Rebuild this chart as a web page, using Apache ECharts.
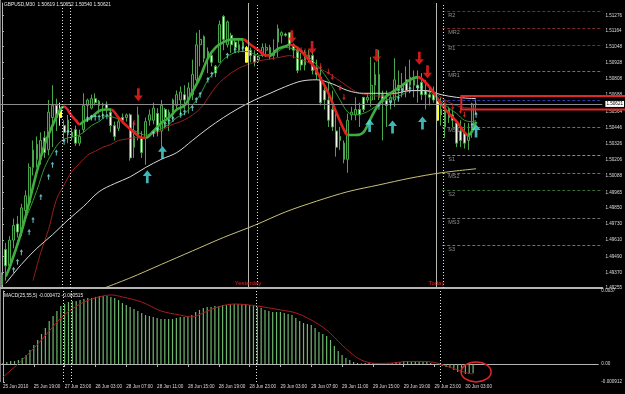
<!DOCTYPE html>
<html><head><meta charset="utf-8">
<script src="https://cdn.jsdelivr.net/npm/echarts@6/dist/echarts.min.js"></script>
<style>html,body{margin:0;padding:0;background:#000;}#c{width:625px;height:394px;}</style>
</head><body><div id="c"></div>
<script>
// ---------------- DATA ----------------
const chartTitle = 'GBPUSD,M30  1.50619 1.50652 1.50540 1.50621';
const macdTitle = 'MACD(25,55,5) -0.000472 -0.000515';
const timeLabels = ['25 Jun 2010','25 Jun 19:00','27 Jun 23:00','28 Jun 03:00','28 Jun 07:00','28 Jun 11:00','28 Jun 15:00','28 Jun 19:00','28 Jun 23:00','29 Jun 03:00','29 Jun 07:00','29 Jun 11:00','29 Jun 15:00','29 Jun 19:00','29 Jun 23:00','30 Jun 03:00'];
const priceTicks = [1.49255,1.49370,1.49490,1.49610,1.49730,1.49850,1.49965,1.50088,1.50206,1.50326,1.50446,1.50564,1.50688,1.50808,1.50928,1.51048,1.51164,1.51276];
const priceMin = 1.49255, priceMax = 1.5137;

const opens = [1.4928,1.4954,1.4942,1.4961,1.4973,1.4967,1.4983,1.4989,1.5015,1.5032,
1.5021,1.5037,1.5028,1.5052,1.5061,1.5058,1.5046,1.5050,1.5041,1.5043,
1.5033,1.5043,1.5061,1.5059,1.5066,1.5064,1.5061,1.5062,1.5056,1.5046,
1.5044,1.5052,1.5052,1.5054,1.5038,1.5037,1.5037,1.5037,1.5050,1.5050,
1.5055,1.5042,1.5058,1.5052,1.5054,1.5061,1.5065,1.5069,1.5065,1.5069,
1.5080,1.5106,1.5112,1.5096,1.5098,1.5090,1.5093,1.5127,1.5106,1.5113,
1.5108,1.5106,1.5104,1.5104,1.5102,1.5098,1.5095,1.5098,1.5102,1.5104,
1.5098,1.5108,1.5113,1.5114,1.5115,1.5106,1.5102,1.5095,1.5091,1.5098,
1.5098,1.5089,1.5082,1.5072,1.5065,1.5058,1.5042,1.5038,1.5033,1.5021,
1.5054,1.5054,1.5058,1.5067,1.5065,1.5065,1.5076,1.5084,1.5069,1.5065,
1.5063,1.5065,1.5076,1.5072,1.5080,1.5076,1.5080,1.5076,1.5078,1.5072,
1.5069,1.5069,1.5064,1.5058,1.5060,1.5058,1.5054,1.5048,1.5042,1.5041,
1.5035,1.5044,1.50619];
const closes = [1.4935,1.4942,1.4961,1.4972,1.4967,1.4985,1.4994,1.5015,1.5028,1.5021,
1.5035,1.5026,1.5056,1.5061,1.5052,1.5052,1.5041,1.5041,1.5038,1.5033,
1.5038,1.5061,1.5065,1.5066,1.5063,1.5061,1.5062,1.5059,1.5046,1.5038,
1.5049,1.5050,1.5054,1.5022,1.5030,1.5054,1.5026,1.5049,1.5054,1.5059,
1.5042,1.5061,1.5052,1.5056,1.5065,1.5069,1.5071,1.5065,1.5074,1.5084,
1.5106,1.5110,1.5096,1.5101,1.5093,1.5085,1.5121,1.5110,1.5123,1.5106,
1.5104,1.5102,1.5108,1.5093,1.5098,1.5093,1.5097,1.5104,1.5104,1.5097,
1.5102,1.5118,1.5115,1.5113,1.5106,1.5102,1.5087,1.5091,1.5096,1.5095,
1.5087,1.5084,1.5063,1.5065,1.5050,1.5045,1.5030,1.5035,1.5021,1.5050,
1.5056,1.5058,1.5054,1.5058,1.5067,1.5076,1.5084,1.5067,1.5065,1.5061,
1.5067,1.5080,1.5072,1.5076,1.5072,1.5082,1.5076,1.5074,1.5069,1.5069,
1.5067,1.5065,1.5050,1.5054,1.5045,1.5052,1.5050,1.5033,1.5035,1.5033,
1.5038,1.5062,1.50621];
const lows = [1.4926,1.4931,1.4939,1.4955,1.4963,1.4964,1.4975,1.4988,1.5009,1.5015,
1.5017,1.5022,1.5024,1.5030,1.5042,1.5046,1.5034,1.5033,1.5035,1.5031,
1.5031,1.5041,1.5052,1.5058,1.5061,1.5055,1.5052,1.5055,1.5041,1.5035,
1.5042,1.5048,1.5049,1.5020,1.5022,1.5035,1.5022,1.5017,1.5046,1.5047,
1.5038,1.5030,1.5044,1.5042,1.5050,1.5058,1.5054,1.5058,1.5055,1.5065,
1.5078,1.5090,1.5093,1.5085,1.5090,1.5082,1.5093,1.5102,1.5104,1.5100,
1.5101,1.5100,1.5102,1.5093,1.5093,1.5090,1.5093,1.5097,1.5097,1.5095,
1.5095,1.5097,1.5107,1.5112,1.5102,1.5096,1.5085,1.5087,1.5087,1.5093,
1.5084,1.5080,1.5061,1.5058,1.5045,1.5042,1.5023,1.5028,1.5018,1.5011,
1.5050,1.5050,1.5045,1.5056,1.5063,1.5060,1.5065,1.5065,1.5035,1.5045,
1.5058,1.5060,1.5065,1.5067,1.5067,1.5070,1.5067,1.5063,1.5065,1.5058,
1.5061,1.5063,1.5049,1.5046,1.5037,1.5048,1.5045,1.5030,1.5030,1.5029,
1.5028,1.5037,1.50540];
const highs = [1.4937,1.4959,1.4964,1.4977,1.4979,1.4988,1.4998,1.5018,1.5035,1.5038,
1.5041,1.5042,1.5065,1.5076,1.5066,1.5063,1.5050,1.5054,1.5044,1.5046,
1.5043,1.5070,1.5066,1.5069,1.5070,1.5065,1.5063,1.5064,1.5058,1.5049,
1.5053,1.5055,1.5055,1.5055,1.5049,1.5060,1.5042,1.5052,1.5058,1.5063,
1.5059,1.5065,1.5059,1.5058,1.5066,1.5072,1.5075,1.5076,1.5078,1.5095,
1.5115,1.5117,1.5113,1.5104,1.5101,1.5091,1.5124,1.5128,1.5124,1.5115,
1.5110,1.5110,1.5111,1.5105,1.5104,1.5102,1.5098,1.5107,1.5107,1.5106,
1.5110,1.5121,1.5116,1.5115,1.5115,1.5107,1.5104,1.5100,1.5102,1.5102,
1.5101,1.5095,1.5090,1.5076,1.5078,1.5072,1.5055,1.5045,1.5035,1.5055,
1.5060,1.5067,1.5063,1.5067,1.5070,1.5097,1.5093,1.5102,1.5072,1.5072,
1.5070,1.5096,1.5087,1.5085,1.5090,1.5095,1.5087,1.5087,1.5085,1.5080,
1.5075,1.5075,1.5065,1.5067,1.5063,1.5060,1.5058,1.5050,1.5050,1.5048,
1.5048,1.5063,1.50652];
const highlightBars = [15, 63, 112];

// indicator lines: [bar index, price]
const trendLine = [[1,1.4934],[2,1.4941],[5,1.4967],[7,1.4989],[9,1.5012],[11,1.5032],[13,1.5046],[15,1.5058],[16,1.5060],[18,1.5053],[19,1.5050],[20,1.5047],[21,1.5049],[23,1.5052],[25,1.5057],[27,1.5058],[28,1.5058],[30,1.5052],[32,1.5046],[34,1.5041],[36,1.5037],[37,1.5037],[39,1.5042],[41,1.5048],[43,1.5052],[45,1.5058],[47,1.5061],[49,1.5071],[51,1.5082],[53,1.5096],[55,1.5104],[57,1.5108],[59,1.5110],[62,1.5110],[64,1.5106],[66,1.5102],[68,1.5098],[69,1.5098],[71,1.5103],[73,1.5105],[74,1.5106],[76,1.5104],[78,1.5098],[80,1.5091],[82,1.5081],[84,1.5070],[86,1.5056],[88,1.5043],[89,1.5039],[91,1.5039],[93,1.5041],[95,1.5052],[97,1.5062],[99,1.5068],[101,1.5072],[103,1.5076],[105,1.5080],[107,1.5082],[109,1.5078],[111,1.5071],[113,1.5062],[115,1.5055],[117,1.5049],[119,1.5041],[120,1.5039],[121,1.5042],[122,1.5049]];
const trendDownRanges = [[16,20],[28,37],[62,69],[74,89],[107,120]];
const fastLine = [[1,1.4935],[3,1.4950],[5,1.4969],[7,1.4983],[9,1.4998],[11,1.5015],[13,1.5026],[15,1.5034],[17,1.5037],[19,1.5038],[21,1.5041],[23,1.5046],[25,1.5049],[27,1.5053],[29,1.5052],[31,1.5049],[33,1.5044],[35,1.5041],[37,1.5039],[39,1.5041],[41,1.5044],[43,1.5047],[45,1.5052],[47,1.5055],[49,1.5061],[51,1.5069],[53,1.5080],[55,1.5087],[57,1.5095],[59,1.5099],[61,1.5101],[63,1.5101],[65,1.5099],[67,1.5098],[69,1.5099],[71,1.5101],[73,1.5104],[75,1.5103],[77,1.5101],[79,1.5097],[81,1.5091],[83,1.5084],[85,1.5075],[87,1.5065],[89,1.5056],[91,1.5054],[93,1.5055],[95,1.5058],[97,1.5062],[99,1.5065],[101,1.5067],[103,1.5069],[105,1.5072],[107,1.5072],[109,1.5072],[111,1.5069],[113,1.5064],[115,1.5059],[117,1.5055],[119,1.5050],[121,1.5049],[122,1.5050]];
const slowLine = [[8,1.4931],[10,1.4952],[12,1.4969],[14,1.4991],[16,1.5002],[18,1.5012],[20,1.5018],[22,1.5024],[24,1.5027],[26,1.5030],[28,1.5032],[30,1.5035],[32,1.5036],[34,1.5037],[36,1.5037],[38,1.5039],[40,1.5041],[42,1.5044],[44,1.5047],[46,1.5049],[48,1.5052],[50,1.5056],[52,1.5062],[54,1.5071],[56,1.5078],[58,1.5083],[60,1.5087],[62,1.5090],[64,1.5092],[66,1.5094],[68,1.5095],[70,1.5096],[72,1.5097],[74,1.5098],[76,1.5096],[78,1.5094],[80,1.5091],[82,1.5088],[84,1.5085],[86,1.5081],[88,1.5077],[90,1.5073],[92,1.5070],[94,1.5069],[96,1.5068],[98,1.5068],[100,1.5069],[102,1.5070],[104,1.5072],[106,1.5072],[108,1.5072],[110,1.5072],[112,1.5069],[114,1.5065],[116,1.5062],[118,1.5060],[120,1.5059],[122,1.5059]];
const ma100Line = [[1,1.4929],[5,1.4943],[9,1.4955],[13,1.4965],[17,1.4976],[21,1.4986],[25,1.4997],[29,1.5003],[33,1.5008],[37,1.5015],[41,1.5021],[45,1.5026],[49,1.5035],[53,1.5044],[57,1.5052],[61,1.5059],[65,1.5065],[69,1.5070],[73,1.5075],[77,1.5079],[81,1.5080],[85,1.5077],[89,1.5072],[93,1.5070],[97,1.5070],[101,1.5070],[105,1.5072],[109,1.5072],[113,1.5069],[117,1.5067],[122,1.5066]];
const ma200Line = [[25,1.4924],[33,1.4933],[41,1.4943],[49,1.4953],[57,1.4963],[65,1.4972],[73,1.4982],[81,1.4990],[89,1.4997],[97,1.5002],[105,1.5007],[113,1.5011],[122,1.5014]];

const smallUpArrows = [[3,1.4939],[4,1.4945],[5,1.4952],[7,1.4967],[8,1.4976],[10,1.4993],[12,1.5008],[13,1.5017],[14,1.5026],[16,1.5034],[17,1.5041],[22,1.5051],[23,1.5052],[24,1.5052],[25,1.5052],[26,1.5053],[27,1.5053],[39,1.5040],[40,1.5043],[42,1.5047],[43,1.5049],[44,1.5051],[46,1.5054],[47,1.5056],[49,1.5059],[50,1.5065],[51,1.5069],[53,1.5080],[54,1.5084],[58,1.5098],[60,1.5102],[62,1.5103],[97,1.5060],[100,1.5063],[102,1.5066],[103,1.5072],[105,1.5073],[107,1.5074],[108,1.5074],[121,1.5046],[122,1.5054]];
const smallDownArrows = [[34,1.5048],[76,1.5102],[77,1.5102],[78,1.5101],[79,1.5099],[82,1.5090],[84,1.5086],[85,1.5082],[87,1.5074],[88,1.5067],[114,1.5063],[116,1.5060],[118,1.5057],[119,1.5054]];
const buySignals = [[37.4,1.5008],[41.3,1.5026],[94.6,1.5046],[100.5,1.5045],[108.2,1.5048],[122,1.5042]];
const sellSignals = [[35.1,1.5069],[74.6,1.5112],[79.8,1.5104],[96.4,1.5098],[107.4,1.5096],[109.5,1.5086]];

const pivotNames = ['R2','MR2','R1','MR1','PP','MS1','S1','MS2','S2','MS3','S3'];
const pivotValues = [1.5131,1.5118,1.5106,1.5086,1.5065,1.5045,1.5024,1.5011,1.4998,1.4977,1.4957];
const pivotStart = 113.3;

const daySeparators = [15.6,17.6,65.6,113.6];
const dayMarkers = [63.3,111.8];
const dayMarkerNames = ['Yesterday','Today'];
const currentPrice = 1.50621;
const zoneTop = 1.5068, zoneBottom = 1.5058, zoneStart = 118.2;

const macdHist = [0.00005,0.0001,0.00015,0.00015,0.0002,0.0003,0.00046,0.00071,0.00096,0.00122,
0.00152,0.00183,0.00218,0.00243,0.00269,0.00294,0.00304,0.00314,0.00319,0.00319,
0.00324,0.0033,0.00335,0.00335,0.0034,0.00345,0.00345,0.00345,0.0034,0.00335,
0.00324,0.00309,0.00299,0.00289,0.00279,0.00269,0.00259,0.00248,0.00243,0.00238,
0.00233,0.00228,0.00228,0.00228,0.00228,0.00233,0.00238,0.00238,0.00243,0.00248,
0.00264,0.00274,0.00284,0.00289,0.00289,0.00294,0.00294,0.00299,0.00299,0.00304,
0.00304,0.00304,0.00304,0.00304,0.00299,0.00294,0.00289,0.00284,0.00274,0.00269,
0.00264,0.00264,0.00264,0.00259,0.00254,0.00248,0.00233,0.00218,0.00208,0.00203,
0.00198,0.00183,0.00162,0.00152,0.00142,0.00122,0.00091,0.00066,0.00046,0.0003,
0.0002,0.0001,0.00005,0.00002,0.00005,0.00005,0.00005,0.00003,0.00001,0.00001,
0.00003,0.00005,0.0001,0.0001,0.00015,0.00015,0.00015,0.00015,0.00015,0.0001,
0.0001,0.00005,0.00001,-0.00003,-0.0001,-0.00015,-0.0002,-0.0003,-0.0004,-0.00046,
-0.00051,-0.00051,-0.000472];
const macdSignal = [[0,-0.00066],[5,0.0002],[10,0.00122],[15,0.00233],[18,0.00279],[21,0.00314],[25,0.0034],[28,0.0035],[31,0.0034],[36,0.00314],[41,0.00269],[46,0.00248],[49,0.00238],[52,0.00259],[55,0.00284],[60,0.00304],[66,0.00294],[72,0.00274],[76,0.00259],[80,0.00223],[84,0.00172],[88,0.00096],[90,0.00061],[93,0.0002],[97,0.00003],[101,0.00005],[105,0.00013],[109,0.00013],[112,0.00008],[115,-0.0001],[118,-0.0003],[120,-0.00043],[122,-0.000515]];
const macdMin = -0.000912, macdMax = 0.0037;
const macdTicks = [-0.000912, 0, 0.0037];
const macdTickText = ['-0.000912','0.00','0.0037'];
const macdCircleAt = [122, -0.0004];

// ---------------- CHART ----------------
const N = 155;
const cats = Array.from({length: N}, (_, i) => String(i));
const FONT = 'Liberation Sans';
const G = '#3fae3f', R = '#e42020';
const arrowPath = 'path://M5,0L10,6L6.5,6L6.5,14L3.5,14L3.5,6L0,6Z';

const candleData = opens.map((o, i) => {
  const v = [o, closes[i], lows[i], highs[i]];
  if (highlightBars.indexOf(i) >= 0) {
    return {value: v, itemStyle: {color: '#ffff20', color0: '#ffff20', borderColor: '#ffff20', borderColor0: '#ffff20'}};
  }
  return v;
});

const pieces = [];
let prev = null;
trendDownRanges.forEach(r => {
  const p = {lt: r[0], color: G};
  if (prev !== null) p.gte = prev;
  pieces.push(p);
  pieces.push({gte: r[0], lt: r[1], color: R});
  prev = r[1];
});
pieces.push({gte: prev, color: G});

const tickShown = (i) => i % 8 === 0 && i / 8 < timeLabels.length;
const pivotColor = {R2:'#7e2a2a', MR2:'#7e2a2a', R1:'#7e2a2a', MR1:'#6e6e6e', PP:'#2a3aa8', MS1:'#6e6e6e', S1:'#8a8a8a', MS2:'#6e6e6e', S2:'#356a35', MS3:'#6e6e6e', S3:'#6e6e6e'};

const option = {
  backgroundColor: '#000',
  animation: false,
  grid: [
    {left: -1, right: 21, top: 3, height: 285},
    {left: -1, right: 21, top: 291, height: 91}
  ],
  visualMap: [{type: 'piecewise', show: false, dimension: 0, seriesIndex: 1, pieces: pieces}],
  xAxis: [
    {type: 'category', gridIndex: 0, data: cats, boundaryGap: true,
     axisLine: {show: true, lineStyle: {color: '#b4b4b4', width: 2}}, axisTick: {show: false}, axisLabel: {show: false}, splitLine: {show: false}},
    {type: 'value', gridIndex: 0, min: -0.5, max: N - 0.5, show: false},
    {type: 'category', gridIndex: 1, data: cats, boundaryGap: true,
     axisLine: {show: true, lineStyle: {color: '#b4b4b4'}},
     axisTick: {show: true, alignWithLabel: true, interval: tickShown, length: 3, lineStyle: {color: '#b4b4b4'}},
     axisLabel: {interval: tickShown, formatter: (v, i) => timeLabels[i / 8], color: '#dcdcdc', fontSize: 4.6, fontFamily: FONT, align: 'left', margin: 2},
     splitLine: {show: false}},
    {type: 'value', gridIndex: 1, min: -0.5, max: N - 0.5, show: false}
  ],
  yAxis: [
    {type: 'value', gridIndex: 0, position: 'right', min: priceMin, max: priceMax,
     axisLine: {show: true, lineStyle: {color: '#b4b4b4'}},
     axisTick: {show: true, length: 2, customValues: priceTicks, lineStyle: {color: '#b4b4b4'}},
     axisLabel: {customValues: priceTicks, formatter: v => v.toFixed(5), color: '#dcdcdc', fontSize: 4.6, fontFamily: FONT, margin: 3},
     splitLine: {show: false}},
    {type: 'value', gridIndex: 1, position: 'right', min: macdMin, max: macdMax,
     axisLine: {show: true, lineStyle: {color: '#b4b4b4'}},
     axisTick: {show: true, length: 2, customValues: macdTicks, lineStyle: {color: '#b4b4b4'}},
     axisLabel: {customValues: macdTicks, formatter: v => macdTickText[macdTicks.indexOf(v)], color: '#dcdcdc', fontSize: 4.6, fontFamily: FONT, margin: 3},
     splitLine: {show: false}}
  ],
  series: [
    {type: 'candlestick', xAxisIndex: 0, yAxisIndex: 0, data: candleData, barWidth: '58%',
     itemStyle: {color: '#0c1a0c', color0: '#eefce8', borderColor: '#4aa64a', borderColor0: '#4aa64a', borderWidth: 1}},
    {type: 'line', xAxisIndex: 1, yAxisIndex: 0, data: trendLine, showSymbol: false, smooth: 0.35, lineStyle: {width: 2.6}, z: 4},
    {type: 'line', xAxisIndex: 1, yAxisIndex: 0, data: fastLine, showSymbol: false, smooth: 0.35, lineStyle: {width: 1, color: '#2f9a2f'}, itemStyle: {color: '#2f9a2f'}, z: 3},
    {type: 'line', xAxisIndex: 1, yAxisIndex: 0, data: slowLine, showSymbol: false, smooth: 0.35, lineStyle: {width: 1, color: '#9a1e1e'}, itemStyle: {color: '#9a1e1e'}, z: 3,
     markLine: {silent: true, symbol: ['none','none'], animation: false,
       data: [[{coord: [-0.5, currentPrice], lineStyle: {color: '#8c8c8c', type: 'solid', width: 1},
                label: {show: true, position: 'end', formatter: currentPrice.toFixed(5), backgroundColor: '#ffffff', color: '#000', fontSize: 4.6, fontFamily: FONT, padding: [1, 1, 0, 1], distance: 3}},
               {coord: [N - 0.5, currentPrice]}]]}},
    {type: 'line', xAxisIndex: 1, yAxisIndex: 0, data: ma100Line, showSymbol: false, smooth: 0.35, lineStyle: {width: 1, color: '#d8d8d8'}, itemStyle: {color: '#d8d8d8'}, z: 3,
     markLine: {silent: true, symbol: ['none','none'], animation: false,
       data: pivotNames.map((n, k) => [
         {coord: [pivotStart, pivotValues[k]], lineStyle: {color: pivotColor[n], type: [3, 2], width: 1},
          label: {show: n !== 'PP', position: 'insideStartBottom', formatter: n, color: '#8e8e8e', fontSize: 5.5, fontFamily: FONT, distance: [6, 1]}},
         {coord: [N - 0.5, pivotValues[k]]}
       ])}},
    {type: 'line', xAxisIndex: 1, yAxisIndex: 0, data: ma200Line, showSymbol: false, smooth: 0.3, lineStyle: {width: 1, color: '#c8c07a'}, itemStyle: {color: '#c8c07a'}, z: 3,
     markLine: {silent: true, symbol: ['none','none'], animation: false, label: {show: false},
       data: daySeparators.map(v => ({xAxis: v, lineStyle: {color: '#e6e6e6', type: [1, 2], width: 1}}))
         .concat(dayMarkers.map(v => ({xAxis: v, lineStyle: {color: '#b8b8aa', type: 'solid', width: 1}})))}},
    {type: 'scatter', xAxisIndex: 1, yAxisIndex: 0, data: smallUpArrows, symbol: arrowPath, symbolSize: [3.5, 6], itemStyle: {color: '#7fe3e8'}, z: 5},
    {type: 'scatter', xAxisIndex: 1, yAxisIndex: 0, data: smallDownArrows, symbol: arrowPath, symbolRotate: 180, symbolSize: [3.5, 6], itemStyle: {color: '#e83030'}, z: 5},
    {type: 'scatter', xAxisIndex: 1, yAxisIndex: 0, data: buySignals, symbol: arrowPath, symbolSize: [9, 13], itemStyle: {color: '#4ee4e4'}, z: 6},
    {type: 'scatter', xAxisIndex: 1, yAxisIndex: 0, data: sellSignals, symbol: arrowPath, symbolRotate: 180, symbolSize: [9, 13], itemStyle: {color: '#ff2020'}, z: 6},
    {type: 'bar', xAxisIndex: 2, yAxisIndex: 1, data: macdHist, barWidth: 1.2, itemStyle: {color: '#6fb86f'}},
    {type: 'line', xAxisIndex: 3, yAxisIndex: 1, data: macdSignal, showSymbol: false, smooth: 0.35, lineStyle: {width: 1, color: '#a81c1c'}, itemStyle: {color: '#a81c1c'}, z: 4,
     markLine: {silent: true, symbol: ['none','none'], animation: false, label: {show: false},
       data: daySeparators.map(v => ({xAxis: v, lineStyle: {color: '#e6e6e6', type: [1, 2], width: 1}}))}}
  ]
};

const chart = echarts.init(document.getElementById('c'));
chart.setOption(option);

const px = j => chart.convertToPixel({xAxisIndex: 1}, j);
const py = v => chart.convertToPixel({yAxisIndex: 0}, v);
const pyM = v => chart.convertToPixel({yAxisIndex: 1}, v);
const gBottom = py(priceMin);
const gfx = [
  {type: 'text', left: 4, top: 2, style: {text: chartTitle, fill: '#e8e8e8', fontSize: 4.8, fontFamily: FONT}},
  {type: 'text', left: 4, top: 293, style: {text: macdTitle, fill: '#e8e8e8', fontSize: 4.8, fontFamily: FONT}},
  {type: 'line', shape: {x1: 0.5, y1: 0, x2: 0.5, y2: pyM(macdMin)}, style: {stroke: '#7a7a7a', lineWidth: 1}},
  {type: 'rect', shape: {x: px(zoneStart), y: py(zoneTop), width: 640 - px(zoneStart), height: py(zoneBottom) - py(zoneTop)},
   style: {fill: 'rgba(0,0,0,0)', stroke: '#e02828', lineWidth: 2}, z: 100},
  {type: 'ellipse', shape: {cx: px(macdCircleAt[0]), cy: pyM(macdCircleAt[1]), rx: 15, ry: 10},
   style: {fill: 'rgba(0,0,0,0)', stroke: '#e02828', lineWidth: 1.5}, z: 100}
];
dayMarkers.forEach((v, k) => {
  gfx.push({type: 'text', x: px(v), y: gBottom - 5,
    style: {text: dayMarkerNames[k], fill: '#e02828', fontSize: 6, fontFamily: FONT, align: 'center', verticalAlign: 'middle'}, z: 100});
});
chart.setOption({graphic: gfx});
</script>
</body></html>
